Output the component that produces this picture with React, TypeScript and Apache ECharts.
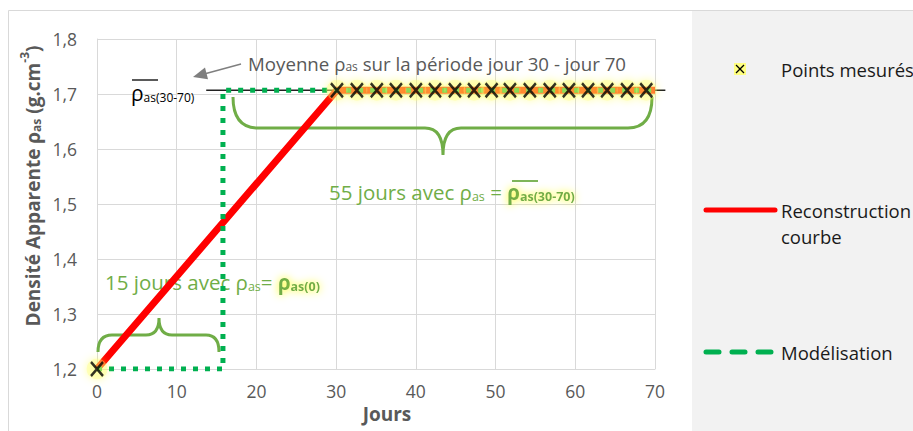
import React, { useEffect, useRef } from 'react';
import * as echarts from 'echarts';

// ---- Data ----
const xTicks = [0, 10, 20, 30, 40, 50, 60, 70];
const yMin = 1.2;
const yMax = 1.8;
const yStep = 0.1;

const measuredDays = [0, 30.1, 32.6, 35.1, 37.5, 40.0, 42.4, 44.9, 47.3, 49.5, 51.8, 54.3, 56.8, 59.2, 61.6, 64.0, 66.5, 68.9];
const measuredValues = [1.2, 1.707, 1.707, 1.707, 1.707, 1.707, 1.707, 1.707, 1.707, 1.707, 1.707, 1.707, 1.707, 1.707, 1.707, 1.707, 1.707, 1.707];

const reconstructionDays = [0, 30.1, 70];
const reconstructionValues = [1.2, 1.707, 1.707];

const modelDays = [0, 15.8, 15.8, 70];
const modelValues = [1.2, 1.2, 1.707, 1.707];

const meanValue = 1.707;
const meanLineFrom = 13.7;
const meanLineTo = 71.3;

const seriesNames = ['Points mesurés', 'Reconstruction courbe', 'Modélisation'];

const FONT = '"Open Sans", "Noto Sans", sans-serif';
const GRAY = '#595959';
const GREEN = '#70AD47';
const MODEL_GREEN = '#00B050';

const braceTopD = 'M233,97 Q233,128 258,128 L425,128 Q443,128 443,155 Q443,128 461,128 L628,128 Q652,128 652,97';
const braceBottomD = 'M98,352 Q98,335 112,335 L146,335 Q159,335 159,318 Q159,335 172,335 L206,335 Q219,335 219,352';

let shapesRegistered = false;
function registerShapes() {
  if (shapesRegistered) return;
  echarts.graphic.registerShape('braceTop', echarts.graphic.extendPath(braceTopD, {}) as any);
  echarts.graphic.registerShape('braceBottom', echarts.graphic.extendPath(braceBottomD, {}) as any);
  shapesRegistered = true;
}

const zip = (xs: number[], ys: number[]) => xs.map((x, i) => [x, ys[i]]);

export default function App() {
  const ref = useRef<HTMLDivElement>(null);

  useEffect(() => {
    registerShapes();
    const chart = echarts.init(ref.current!, null, { renderer: 'svg' });

    const option: any = {
      animation: false,
      backgroundColor: '#ffffff',
      textStyle: { fontFamily: FONT },
      grid: { left: 97, right: 258, top: 39, bottom: 62 },
      xAxis: {
        type: 'value',
        min: xTicks[0],
        max: xTicks[xTicks.length - 1],
        interval: 10,
        axisLine: { show: true, lineStyle: { color: '#d9d9d9', width: 1 } },
        axisTick: { show: false },
        splitLine: { show: true, lineStyle: { color: '#d9d9d9', width: 1 } },
        axisLabel: { color: GRAY, fontSize: 17.5, fontFamily: FONT, margin: 13 },
        name: 'Jours',
        nameLocation: 'middle',
        nameGap: 35,
        nameTextStyle: { color: GRAY, fontSize: 19, fontWeight: 'bold', fontFamily: FONT, padding: [0, 0, 0, 22] },
      },
      yAxis: {
        type: 'value',
        min: yMin,
        max: yMax,
        interval: yStep,
        axisLine: { show: true, lineStyle: { color: '#d9d9d9', width: 1 } },
        axisTick: { show: false },
        splitLine: { show: true, lineStyle: { color: '#d9d9d9', width: 1 } },
        axisLabel: {
          color: GRAY,
          fontSize: 17.5,
          fontFamily: FONT,
          margin: 20,
          formatter: (v: number) => v.toFixed(1).replace('.', ','),
        },
      },
      series: [
        {
          name: seriesNames[1],
          type: 'line',
          data: zip(reconstructionDays, reconstructionValues),
          symbol: 'none',
          lineStyle: { color: '#FF0000', width: 7, cap: 'butt', join: 'miter' },
          z: 2,
          silent: true,
        },
        {
          name: seriesNames[2],
          type: 'line',
          data: zip(modelDays, modelValues),
          symbol: 'none',
          lineStyle: { color: MODEL_GREEN, width: 5, type: [5, 7], cap: 'butt', join: 'miter' },
          z: 3,
          silent: true,
        },
        {
          name: 'glow',
          type: 'scatter',
          data: zip(measuredDays, measuredValues),
          symbol: 'circle',
          symbolSize: 21,
          itemStyle: { color: 'rgba(255,255,110,0.45)', shadowBlur: 8, shadowColor: 'rgba(255,255,0,0.9)' },
          z: 4,
          silent: true,
        },
        {
          name: seriesNames[0],
          type: 'scatter',
          data: zip(measuredDays, measuredValues),
          symbol: 'path://M0,0L10,12M10,0L0,12',
          symbolSize: [12, 14],
          itemStyle: { color: 'rgba(0,0,0,0)', borderColor: '#000000', borderWidth: 2.6 },
          z: 5,
          silent: true,
        },
      ],
    };

    chart.setOption(option);

    const p0 = chart.convertToPixel({ gridIndex: 0 }, [meanLineFrom, meanValue]) as number[];
    const p1 = chart.convertToPixel({ gridIndex: 0 }, [meanLineTo, meanValue]) as number[];

    const richSet = (fill: string, big: number, small: number) => ({
      b: { fill, fontSize: big, fontFamily: FONT, lineHeight: big + 5, verticalAlign: 'bottom' },
      s: { fill, fontSize: small, fontFamily: FONT, lineHeight: small + 1, verticalAlign: 'bottom' },
      hb: {
        fill, fontSize: big, fontFamily: FONT, fontWeight: 'bold', lineHeight: big + 5, verticalAlign: 'bottom',
        textShadowColor: 'rgba(255,255,0,1)', textShadowBlur: 8,
      },
      hs: {
        fill, fontSize: small, fontFamily: FONT, fontWeight: 'bold', lineHeight: small + 1, verticalAlign: 'bottom',
        textShadowColor: 'rgba(255,255,0,1)', textShadowBlur: 8,
      },
    });

    const legendText = (x: number, y: number, text: string) => ({
      type: 'text',
      x, y, z: 10,
      style: { text, fill: '#1a1a1a', fontSize: 18.5, fontFamily: FONT, verticalAlign: 'middle', align: 'left', lineHeight: 26 },
    });

    const elements: any[] = [
      // chart frame
      { type: 'rect', z: 0, shape: { x: 8.5, y: 10.5, width: 1000, height: 1000 }, style: { fill: 'none', stroke: '#d9d9d9', lineWidth: 1 } },
      // legend panel
      { type: 'rect', z: 0, shape: { x: 692, y: 11, width: 221, height: 420 }, style: { fill: '#F2F2F2' } },
      // legend: points mesurés
      { type: 'rect', z: 10, shape: { x: 734, y: 63, width: 12, height: 12 }, style: { fill: '#FFFF80' } },
      { type: 'line', z: 11, shape: { x1: 736, y1: 65, x2: 744, y2: 73 }, style: { stroke: '#000', lineWidth: 1.3 } },
      { type: 'line', z: 11, shape: { x1: 744, y1: 65, x2: 736, y2: 73 }, style: { stroke: '#000', lineWidth: 1.3 } },
      legendText(781, 69, seriesNames[0]),
      // legend: reconstruction
      { type: 'line', z: 10, shape: { x1: 706, y1: 210, x2: 775, y2: 210 }, style: { stroke: '#FF0000', lineWidth: 5, lineCap: 'round' } },
      legendText(781, 223, 'Reconstruction\ncourbe'),
      // legend: modélisation
      { type: 'line', z: 10, shape: { x1: 706, y1: 352, x2: 775, y2: 352 }, style: { stroke: MODEL_GREEN, lineWidth: 5, lineCap: 'round', lineDash: [13, 13] } },
      legendText(781, 352, seriesNames[2]),

      // y axis title
      {
        type: 'text', x: 30, y: 186, rotation: Math.PI / 2, z: 10,
        style: {
          text: '{t|Densité Apparente ρ}{ts|as}{t| (g.cm}{tp|-3}{t|)}',
          align: 'center', verticalAlign: 'middle',
          rich: {
            t: { fill: GRAY, fontSize: 19, fontWeight: 'bold', fontFamily: FONT, lineHeight: 24, verticalAlign: 'bottom' },
            ts: { fill: GRAY, fontSize: 12, fontWeight: 'bold', fontFamily: FONT, lineHeight: 13, verticalAlign: 'bottom' },
            tp: { fill: GRAY, fontSize: 12, fontWeight: 'bold', fontFamily: FONT, lineHeight: 13, verticalAlign: 'top' },
          },
        },
      },

      // mean line
      { type: 'line', z: 1, shape: { x1: p0[0], y1: p0[1], x2: p1[0], y2: p1[1] }, style: { stroke: '#222', lineWidth: 1.5 } },
      // mean label
      {
        type: 'text', x: 131, y: 90, z: 10,
        style: { text: '{b|ρ}{s|as(30-70)}', verticalAlign: 'middle', rich: richSet('#000', 21, 12) },
      },
      { type: 'line', z: 10, shape: { x1: 132, y1: 80, x2: 158, y2: 80 }, style: { stroke: '#000', lineWidth: 1.3 } },

      // arrow annotation
      { type: 'line', z: 10, shape: { x1: 241, y1: 64, x2: 206, y2: 73.5 }, style: { stroke: '#7f7f7f', lineWidth: 1.5 } },
      { type: 'polygon', z: 10, shape: { points: [[193, 77], [205, 67.5], [208, 79.3]] }, style: { fill: '#7f7f7f' } },
      {
        type: 'text', x: 248, y: 61, z: 10,
        style: { text: '{b|Moyenne ρ}{s|as}{b| sur la période jour 30 - jour 70}', verticalAlign: 'middle', rich: richSet(GRAY, 18.7, 12) },
      },

      // braces
      { type: 'braceTop', x: 0, y: 0, z: 1, style: { stroke: GREEN, lineWidth: 3, fill: 'none' } },
      { type: 'braceBottom', x: 0, y: 0, z: 1, style: { stroke: GREEN, lineWidth: 3, fill: 'none' } },

      // 55 jours
      {
        type: 'text', x: 329, y: 190, z: 1,
        style: { text: '{b|55 jours avec ρ}{s|as}{b| = }{hb|ρ}{hs|as(30-70)}', verticalAlign: 'middle', rich: richSet(GREEN, 20.5, 12.5) },
      },
      { type: 'line', z: 1, shape: { x1: 512, y1: 181, x2: 538, y2: 181 }, style: { stroke: GREEN, lineWidth: 1.8 } },

      // 15 jours
      {
        type: 'text', x: 105, y: 280, z: 1,
        style: { text: '{b|15 jours avec ρ}{s|as}{b|= }{hb|ρ}{hs|as(0)}', verticalAlign: 'middle', rich: richSet(GREEN, 20.5, 12.5) },
      },
    ];

    chart.setOption({ graphic: { elements } });

    return () => chart.dispose();
  }, []);

  return (
    <div
      ref={ref}
      style={{ position: 'fixed', left: 0, top: 0, width: 913, height: 431, background: '#fff' }}
    />
  );
}
